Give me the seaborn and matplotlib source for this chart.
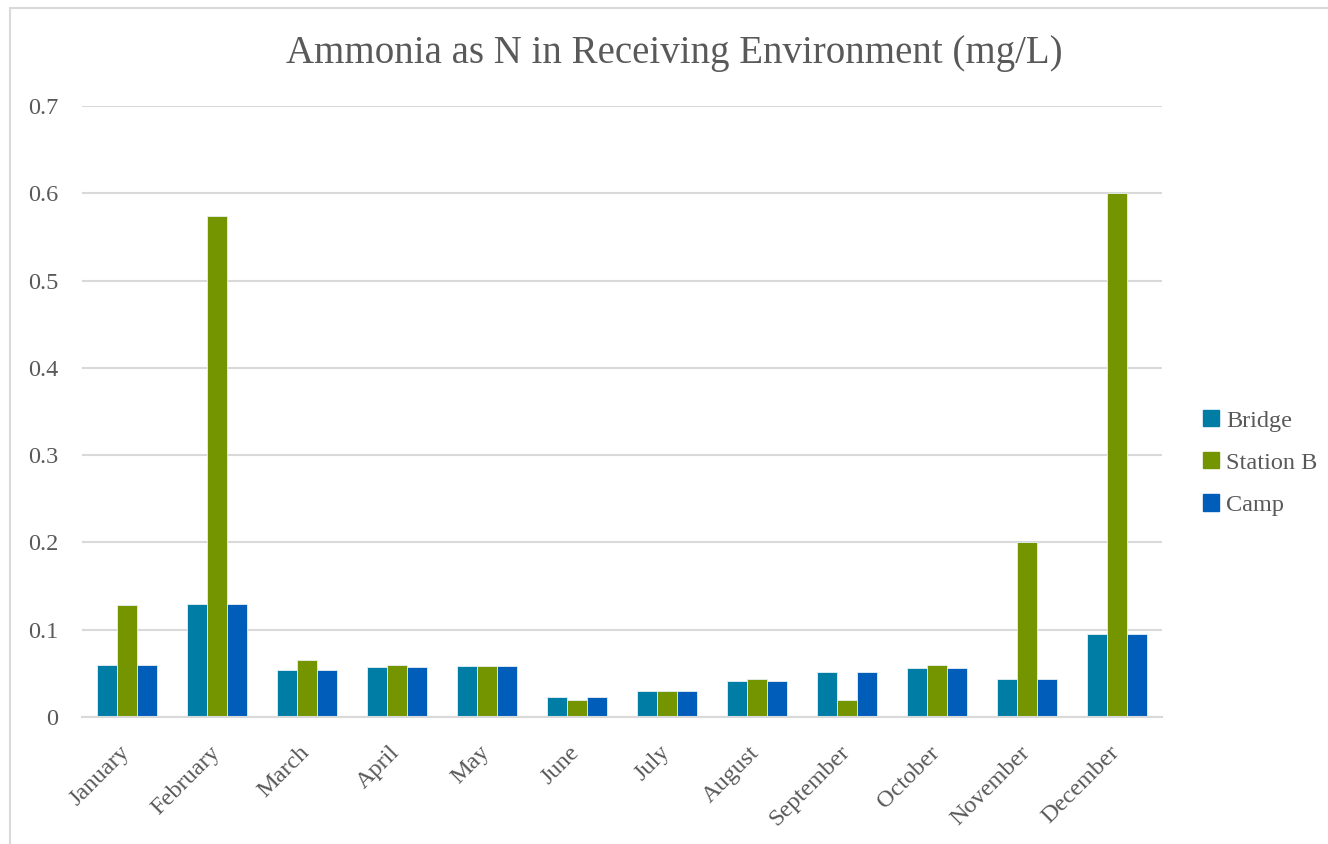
# Gráfico de barras agrupadas: amoníaco como N por mes y estación
import pandas as pd
import matplotlib.pyplot as plt
import seaborn as sns
from matplotlib.patches import Rectangle
from matplotlib.transforms import ScaledTranslation

# ===========================
# Datos
# ===========================
months = ["January", "February", "March", "April", "May", "June",
          "July", "August", "September", "October", "November", "December"]
sites = ["Bridge", "Station B", "Camp"]

bridge = [0.060, 0.130, 0.054, 0.057, 0.059, 0.023,
          0.030, 0.041, 0.052, 0.056, 0.044, 0.095]
station_b = [0.128, 0.574, 0.065, 0.060, 0.059, 0.020,
             0.030, 0.044, 0.020, 0.060, 0.201, 0.600]
camp = [0.060, 0.130, 0.054, 0.057, 0.059, 0.023,
        0.030, 0.041, 0.052, 0.056, 0.044, 0.095]

colors = ["#007DA4", "#749400", "#005DBA"]
text_color = "#595959"
grid_color = "#D9D9D9"

df = pd.DataFrame({
    "month": months * 3,
    "site": [s for s in sites for _ in months],
    "value": bridge + station_b + camp,
})

# ===========================
# Estilo
# ===========================
sns.set_theme(style="white")
plt.rcParams["font.family"] = ["Liberation Serif", "DejaVu Serif"]

fig = plt.figure(figsize=(13.28, 8.44), dpi=100)
ax = fig.add_axes([82 / 1328, 1 - 717 / 844, (1162 - 82) / 1328, (717 - 106) / 844])

sns.barplot(data=df, x="month", y="value", hue="site", order=months,
            hue_order=sites, palette=colors, width=0.667, gap=0,
            saturation=1, edgecolor="#E8F0F4", linewidth=0.6, ax=ax)

ax.set_ylim(0, 0.7)
ax.set_yticks([0, 0.1, 0.2, 0.3, 0.4, 0.5, 0.6, 0.7])
ax.set_yticklabels(["0", "0.1", "0.2", "0.3", "0.4", "0.5", "0.6", "0.7"])
ax.set_xlabel("")
ax.set_ylabel("")
ax.yaxis.grid(True, color=grid_color, linewidth=1.5)
ax.set_axisbelow(True)
for side in ["top", "right", "left"]:
    ax.spines[side].set_visible(False)
ax.spines["bottom"].set_color(grid_color)
ax.spines["bottom"].set_linewidth(1.5)

ax.tick_params(axis="y", length=0, pad=17, labelsize=17.5, labelcolor=text_color)
ax.tick_params(axis="x", length=0, pad=18, labelsize=17.5, labelcolor=text_color)
shift = ScaledTranslation(-8 / 100, 0, fig.dpi_scale_trans)
for lab in ax.get_xticklabels():
    lab.set_rotation(45)
    lab.set_ha("right")
    lab.set_va("top")
    lab.set_rotation_mode("anchor")
    lab.set_transform(lab.get_transform() + shift)

ax.legend_.remove()
handles = [Rectangle((0, 0), 1, 1, color=c) for c in colors]
fig.legend(handles, sites, loc="center left",
           bbox_to_anchor=(1203 / 1328, 1 - 463 / 844), frameon=False,
           fontsize=17.5, labelcolor=text_color, handlelength=0.65,
           handleheight=0.65, handletextpad=0.3, labelspacing=0.85,
           borderpad=0, borderaxespad=0)

fig.text(674 / 1328, 1 - 54 / 844, "Ammonia as N in Receiving Environment (mg/L)",
         ha="center", va="center", fontsize=28, color=text_color)

# Marco del área del gráfico
fig.patches.append(Rectangle((10 / 1328, -0.05), 1.1, 1 - 8 / 844 + 0.05,
                             transform=fig.transFigure, fill=False,
                             edgecolor=grid_color, linewidth=1.5))

fig.savefig("out.png", dpi=100, facecolor="white")
